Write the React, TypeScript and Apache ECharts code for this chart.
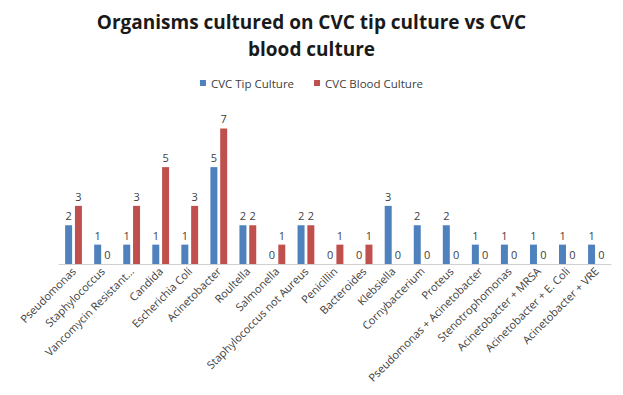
import React, { useEffect, useRef } from "react";
import * as echarts from "echarts";

const categories = [
  "Pseudomonas",
  "Staphylococcus",
  "Vancomycin Resistant...",
  "Candida",
  "Escherichia Coli",
  "Acinetobacter",
  "Roultella",
  "Salmonella",
  "Staphylococcus not Aureus",
  "Penicillin",
  "Bacteroides",
  "Klebsiella",
  "Cornybacterium",
  "Proteus",
  "Pseudomonas + Acinetobacter",
  "Stenotrophomonas",
  "Acinetobacter + MRSA",
  "Acinetobacter + E. Coli",
  "Acinetobacter + VRE",
];
const tipCulture = [2, 1, 1, 1, 1, 5, 2, 0, 2, 0, 0, 3, 2, 2, 1, 1, 1, 1, 1];
const bloodCulture = [3, 0, 3, 5, 3, 7, 2, 1, 2, 1, 1, 0, 0, 0, 0, 0, 0, 0, 0];
const seriesNames = ["CVC Tip Culture", "CVC Blood Culture"];

export default function App() {
  const ref = useRef<HTMLDivElement>(null);
  useEffect(() => {
    if (!ref.current) return;
    const chart = echarts.init(ref.current, null, { renderer: "svg" });
    const font = "Open Sans, Liberation Sans, sans-serif";
    const labelCfg = {
      show: true,
      position: "top" as const,
      distance: 4,
      color: "#404040",
      fontSize: 11,
      fontFamily: font,
    };
    chart.setOption({
      animation: false,
      title: {
        text: "Organisms cultured on CVC tip culture vs CVC\nblood culture",
        left: "center",
        top: -5,
        textStyle: {
          fontFamily: font,
          fontSize: 19,
          fontWeight: "bold",
          color: "#1a1a1a",
          lineHeight: 27,
        },
      },
      legend: {
        data: seriesNames,
        top: 64,
        left: "center",
        itemWidth: 6,
        itemHeight: 6,
        itemGap: 20,
        icon: "rect",
        textStyle: { fontFamily: font, fontSize: 11.5, color: "#404040" },
      },
      grid: {
        left: 51,
        right: 4,
        top: 101,
        bottom: 131,
        containLabel: false,
        outerBoundsMode: "none",
      },
      xAxis: {
        type: "category",
        data: categories,
        axisLine: { lineStyle: { color: "#d0d0d0" } },
        axisTick: { show: false },
        axisLabel: {
          rotate: 45,
          interval: 0,
          fontSize: 11,
          fontFamily: font,
          color: "#404040",
          margin: 5,
        },
      },
      yAxis: {
        type: "value",
        min: 0,
        max: 8,
        show: false,
        splitLine: { show: false },
      },
      series: [
        {
          name: seriesNames[0],
          type: "bar",
          data: tipCulture,
          barWidth: 7,
          barGap: "40%",
          itemStyle: { color: "#4F81BD" },
          label: labelCfg,
        },
        {
          name: seriesNames[1],
          type: "bar",
          data: bloodCulture,
          barWidth: 7,
          itemStyle: { color: "#C0504D" },
          label: labelCfg,
        },
      ],
    });
    return () => chart.dispose();
  }, []);
  return <div ref={ref} style={{ width: 607, height: 387 }} />;
}
